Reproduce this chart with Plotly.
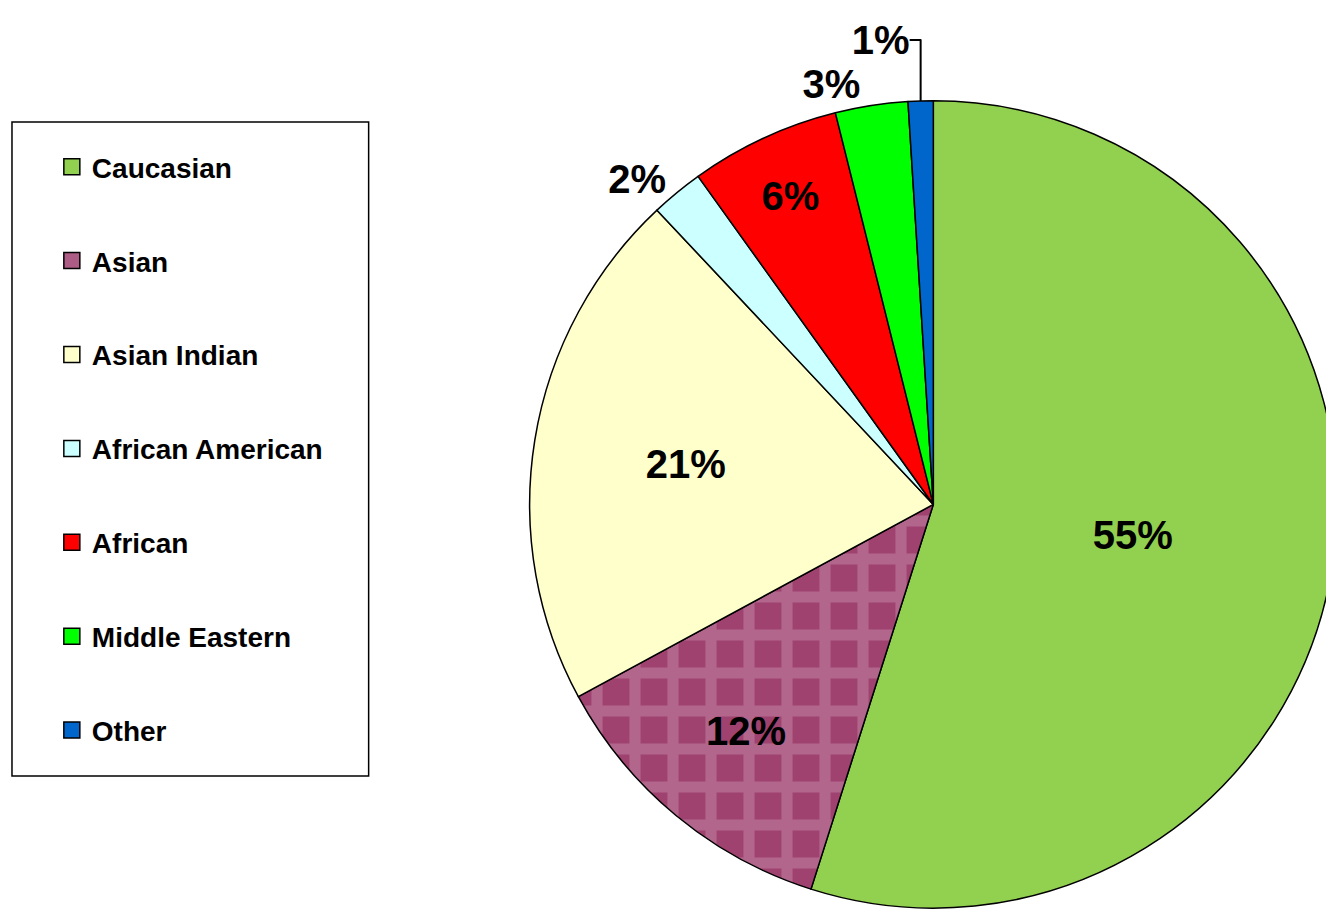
import plotly.graph_objects as go

categories = ["Caucasian", "Asian", "Asian Indian", "African American", "African", "Middle Eastern", "Other"]
values = [54.9, 12.2, 20.9, 2.1, 6.0, 2.9, 1.0]
colors = ["#92D050", "#AD5C86", "#FFFFCC", "#CCFFFF", "#FF0000", "#00FF00", "#0066CC"]
text_positions = ["inside", "inside", "inside", "outside", "inside", "outside", "outside"]

W, H = 1334, 914
FONT = "Liberation Sans, Arial, sans-serif"

fig = go.Figure()

fig.add_trace(go.Pie(
    labels=categories,
    values=values,
    sort=False,
    direction="clockwise",
    rotation=0,
    marker=dict(
        colors=colors,
        line=dict(color="black", width=1.5),
        pattern=dict(
            shape=["", "+", "", "", "", "", ""],
            fgcolor="#B2668C",
            bgcolor=["#92D050", "#A0426F", "#FFFFCC", "#CCFFFF", "#FF0000", "#00FF00", "#0066CC"],
            size=38,
            solidity=0.5,
            fillmode="replace",
        ),
    ),
    texttemplate="%{percent:.0%}",
    textposition=text_positions,
    insidetextorientation="horizontal",
    textfont=dict(family=FONT, size=40, color="black", weight="bold"),
    outsidetextfont=dict(family=FONT, size=40, color="black", weight="bold"),
    domain=dict(x=[0.3925, 1.0], y=[0.0125, 0.9012]),
    showlegend=False,
    hoverinfo="label+percent",
))

for cat, col in zip(categories, colors):
    fig.add_trace(go.Scatter(
        x=[None], y=[None],
        mode="markers",
        name=cat,
        legendgroup=cat,
        marker=dict(symbol="square", size=16, color=col, line=dict(color="black", width=1.5)),
        showlegend=True,
    ))

fig.update_layout(
    width=W, height=H,
    margin=dict(l=0, r=0, t=0, b=0),
    paper_bgcolor="white",
    plot_bgcolor="white",
    xaxis=dict(visible=False),
    yaxis=dict(visible=False),
    legend=dict(
        x=44 / W, xanchor="left",
        y=1 - 134 / H, yanchor="top",
        borderwidth=0,
        bgcolor="rgba(0,0,0,0)",
        font=dict(family=FONT, size=28, color="black", weight="bold"),
        traceorder="grouped",
        tracegroupgap=54.5,
        itemsizing="trace",
    ),
    shapes=[dict(
        type="rect", xref="paper", yref="paper",
        x0=4 / W, x1=362 / W, y0=1 - 768 / H, y1=1 - 114 / H,
        line=dict(color="black", width=1.5), fillcolor="rgba(0,0,0,0)", layer="below",
    )],
)

fig.write_html("out.html")
